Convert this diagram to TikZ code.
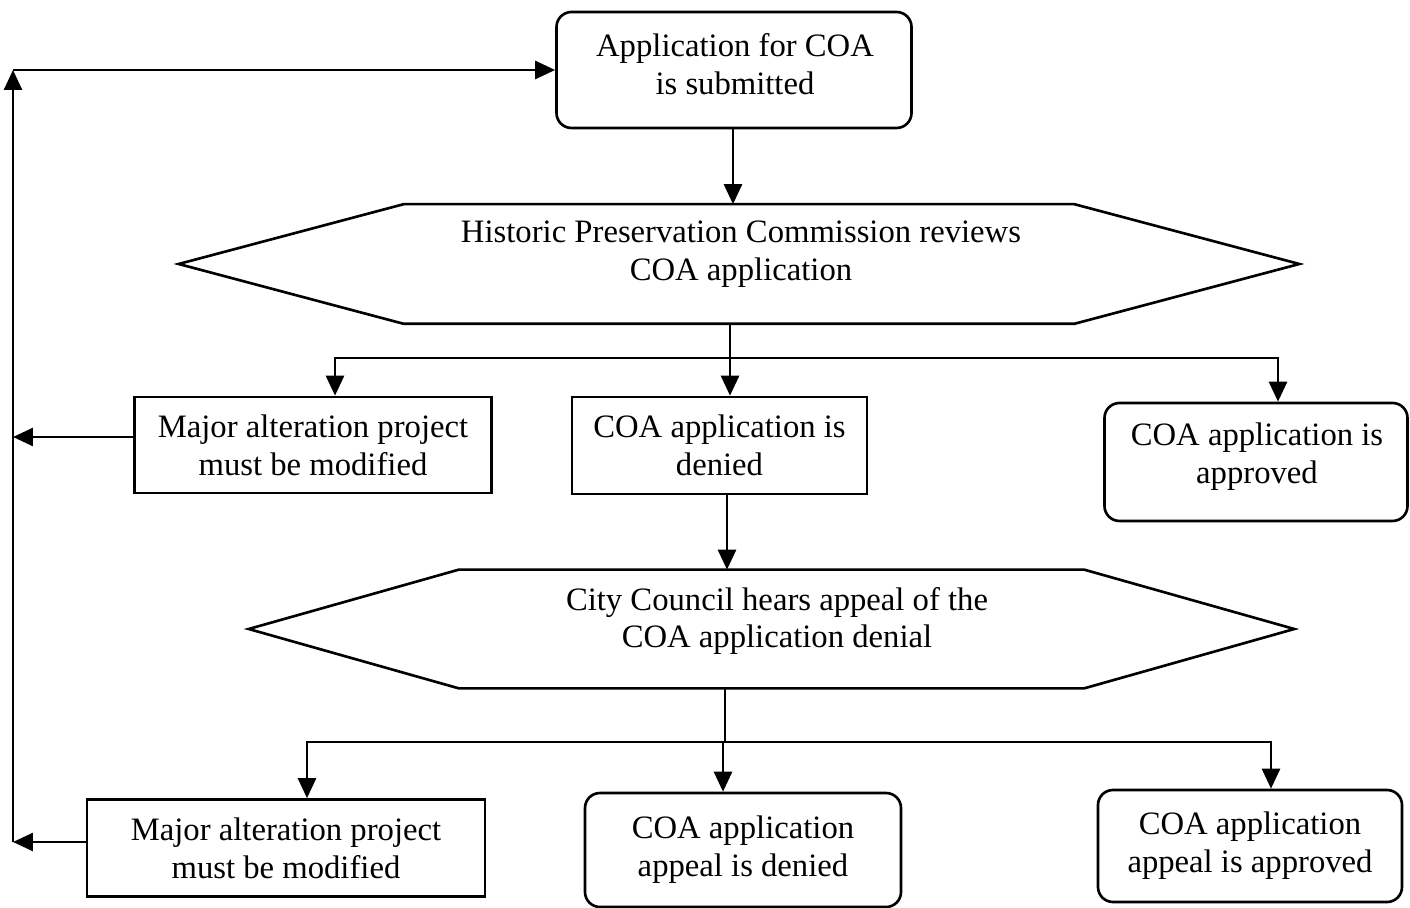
\documentclass[tikz,border=0pt]{standalone}
\usepackage{fontspec}
\setmainfont{Liberation Serif}
\usetikzlibrary{arrows.meta,calc}
\begin{document}
\begin{tikzpicture}[x=0.02cm,y=-0.02cm,
  line width=1.5pt,
  font=\fontsize{18.6}{21.5}\selectfont,
  arr/.style={-{Triangle[length=0.4cm,width=0.36cm]}},
  sqbox/.style={draw,align=center,inner sep=0pt},
  rbox/.style={draw,rounded corners=0.3cm,align=center,inner sep=0pt},
  frame/.style={inner sep=0pt},
  txt/.style={align=center,inner sep=0pt}]
\useasboundingbox (0,0) rectangle (1410,908);
% nodes
\node[rbox,minimum width=355*0.02cm,minimum height=116*0.02cm] (s) at (734,70) {};
\node[txt] (st) at (735,64) {Application for COA\\is submitted};
\node[frame,minimum width=1118*0.02cm,minimum height=117*0.02cm] (h1) at (739,264) {};
\node[txt] (h1t) at (741,254) {Historic Preservation Commission reviews\\COA application};
\draw (h1.west) -- ($(h1.north west)+(225,0)$) -- ($(h1.north east)+(-225,0)$) -- (h1.east) -- ($(h1.south east)+(-225,0)$) -- ($(h1.south west)+(225,0)$) -- cycle;
\node[sqbox,minimum width=357*0.02cm,minimum height=96*0.02cm] (m1) at (313,445) {Major alteration project\\must be modified};
\node[sqbox,minimum width=295*0.02cm,minimum height=97*0.02cm] (d1) at (719.5,445.5) {COA application is\\denied};
\node[rbox,minimum width=303*0.02cm,minimum height=118*0.02cm] (a1) at (1256,462) {};
\node[txt] (a1t) at (1257,457) {COA application is\\approved};
\node[frame,minimum width=1043*0.02cm,minimum height=116*0.02cm] (h2) at (771.5,629) {};
\node[txt] (h2t) at (777,621) {City Council hears appeal of the\\COA application denial};
\draw (h2.west) -- ($(h2.north west)+(210,0)$) -- ($(h2.north east)+(-210,0)$) -- (h2.east) -- ($(h2.south east)+(-210,0)$) -- ($(h2.south west)+(210,0)$) -- cycle;
\node[sqbox,minimum width=398*0.02cm,minimum height=97*0.02cm] (m2) at (286,848) {Major alteration project\\must be modified};
\node[rbox,minimum width=316*0.02cm,minimum height=114*0.02cm] (d2) at (743,850) {COA application\\appeal is denied};
\node[rbox,minimum width=304*0.02cm,minimum height=112*0.02cm] (a2) at (1250,846) {COA application\\appeal is approved};
% connectors
\coordinate (t1) at (733,128);
\draw[arr] (t1 |- s.south) -- (t1 |- h1.north);
\coordinate (t2) at (727,494);
\draw[arr] (t2 |- d1.south) -- (t2 |- h2.north);
\coordinate (j1) at (730,358);
\draw (j1 |- h1.south) -- (j1);
\draw[arr] (j1) -- (j1 |- d1.north);
\draw[arr] (j1) -| ($(m1.north)+(22,0)$);
\draw[arr] (j1) -| ($(a1.north)+(22,0)$);
\coordinate (j2) at (725,742);
\draw (j2 |- h2.south) -- (j2);
\draw[arr] (j2) -| ($(d2.north)+(-20,0)$);
\draw[arr] (j2) -| ($(m2.north)+(21,0)$);
\draw[arr] (j2) -| ($(a2.north)+(21,0)$);
% return loop
\coordinate (lx) at (13,70);
\coordinate (r1) at (13,437);
\coordinate (r2) at (13,842);
\draw[arr] (r1 -| m1.west) -- (r1);
\draw[arr] (r2 -| m2.west) -- (r2);
\draw[arr] (r2) -- (lx);
\draw[arr] (lx) -- (s.west);
\end{tikzpicture}
\end{document}
